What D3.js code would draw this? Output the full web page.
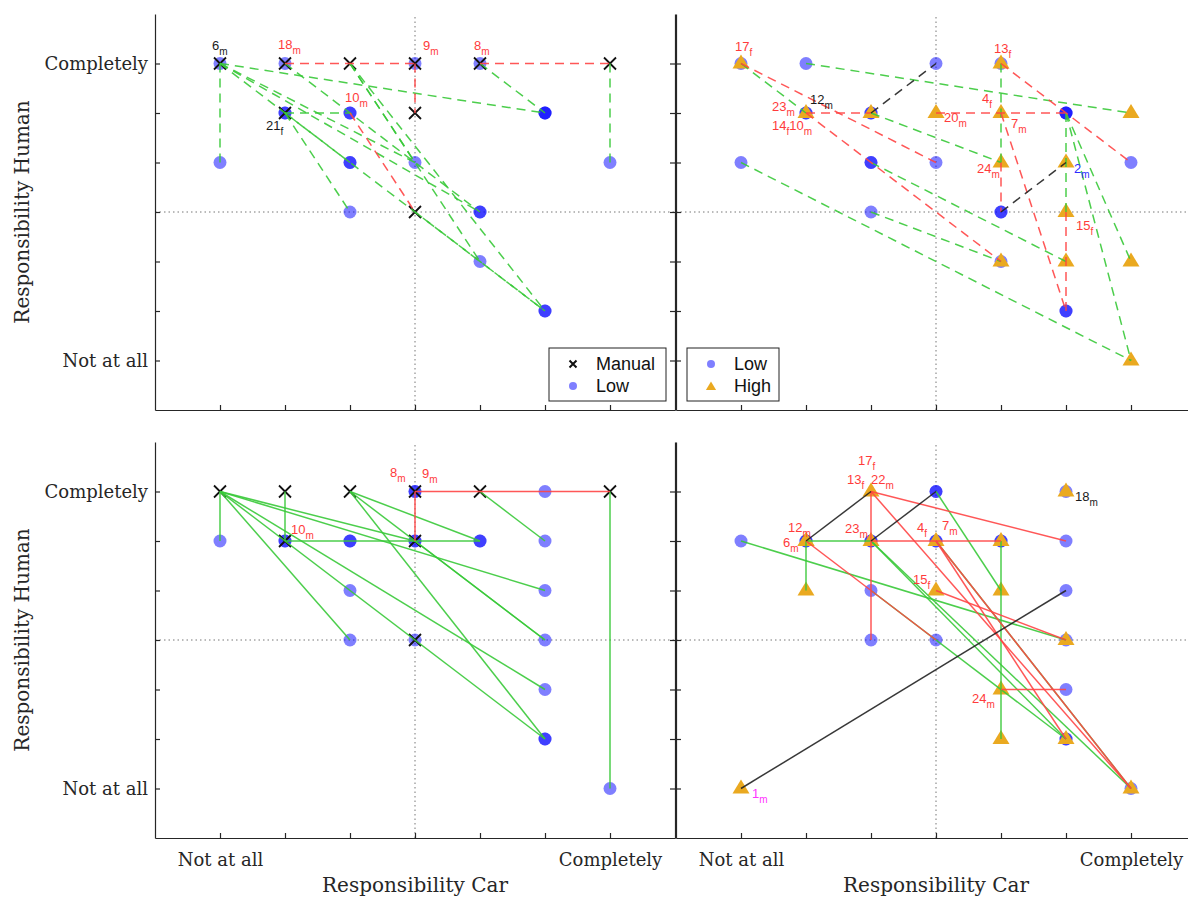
<!DOCTYPE html>
<html>
<head>
<meta charset="utf-8">
<script src="https://cdn.jsdelivr.net/npm/d3@7"></script>
<style>
  body { margin: 0; background: #fff; }
  svg { display: block; font-family: "Liberation Sans", Arial, sans-serif; }
  .axis path, .axis line { stroke: #262626; stroke-width: 1.2; }
  .axis text { font-family: "DejaVu Serif", serif; font-size: 18px; fill: #262626; }
  .axis-title { font-family: "DejaVu Serif", serif; font-size: 20px; fill: #262626; }
  .legend-text { font-size: 18px; fill: #111; }
  .pid { font-size: 13px; }
</style>
</head>
<body>
<svg id="chart" width="1188" height="898"></svg>
<script>
// rating scale: 1 = Not at all ... 7 = Completely
const ticks = [1, 2, 3, 4, 5, 6, 7];
const tickNames = { 1: "Not at all", 7: "Completely" };

// marker positions [car, human]
const manualTop = [[1,7],[2,7],[3,7],[4,7],[5,7],[7,7],[2,6],[4,6],[4,4]];
const lowTop = [[1,7],[2,7],[4,7],[5,7],[2,6],[2,6],[3,6],[3,6],[6,6],[6,6],[6,6],[1,5],
                [3,5],[3,5],[4,5],[7,5],[3,4],[5,4],[5,4],[5,3],[6,2],[6,2]];
const highTop = [[1,7],[5,7],[2,6],[3,6],[4,6],[5,6],[7,6],[5,5],[6,5],[6,4],[5,3],[6,3],[7,3],[7,1]];

const manualBottom = [[1,7],[2,7],[3,7],[4,7],[5,7],[7,7],[2,6],[4,6],[4,4]];
const lowBottom = [[1,6],[2,6],[2,6],[3,6],[3,6],[4,7],[4,7],[4,6],[4,6],[5,6],[5,6],[6,7],[6,6],
                   [3,5],[6,5],[3,4],[4,4],[6,4],[6,3],[6,2],[6,2],[7,1]];
const highBottom = [[1,1],[2,6],[2,6],[2,5],[3,7],[3,6],[4,6],[4,5],[5,6],[5,5],[5,3],[5,2],[6,7],[6,4],[6,2],[7,1]];

// participant changes [car1, human1, car2, human2]
const tlGreen = [[1,7,1,5],[1,7,6,6],[1,7,6,2],[1,7,4,5],[1,7,5,4],[2,7,5,4],[2,6,3,6],[2,6,3,4],
                 [2,6,3,5],[3,7,4,5],[3,7,5,3],[3,7,6,2],[4,4,6,2],[5,7,6,6],[7,7,7,5]];
const tlRed = [[2,7,4,7],[5,7,7,7],[4,7,4,6],[3,6,4,4]];
const tlBlack = [];

const trGreen = [[1,7,2,6],[2,7,7,6],[3,6,5,5],[1,5,7,1],[3,4,5,3],[3,5,6,3],[6,6,6,4],[6,6,7,3],
                 [6,6,7,1],[5,7,5,5]];
const trRed = [[1,7,4,5],[2,6,3,6],[4,6,6,6],[2,6,5,3],[5,7,7,5],[5,6,6,2],[5,5,5,4],[6,4,6,2]];
const trBlack = [[3,6,4,7],[5,4,6,5]];

const blGreen = [[1,7,1,6],[2,7,2,6],[2,6,5,6],[1,7,4,6],[1,7,6,5],[1,7,6,3],[1,7,6,2],[1,7,3,4],
                 [3,7,5,6],[3,7,6,2],[3,7,6,4],[4,6,6,4],[5,7,6,6],[7,7,7,1]];
const blRed = [[4,7,7,7],[4,7,4,6]];
const blBlack = [];

const brGreen = [[1,6,6,4],[2,6,3,6],[2,6,2,5],[3,6,6,2],[3,5,6,2],[4,7,5,5],[5,6,5,2],[3,6,7,1],[4,6,7,1]];
const brRed = [[3,7,6,6],[3,7,3,4],[3,7,7,1],[2,6,4,4],[3,6,5,6],[4,6,6,2],[4,6,7,1],[4,5,6,4],[5,3,6,3]];
const brBlack = [[2,6,3,7],[3,6,4,7],[1,1,6,5]];

// participant labels [car, human, number, sex, colour]
const tlLabels = [[1,7,"6","m","k"],[2,7,"18","m","r"],[4,7,"9","m","r"],[5,7,"8","m","r"],
                  [3,6,"10","m","r"],[2,6,"21","f","k"]];
const trLabels = [[1,7,"17","f","r"],[2,6,"12","m","k"],[2,6,"23","m","r"],[2,6,"14","f","r","10","m"],
                  [5,7,"13","f","r"],[5,6,"4","f","r"],[4,6,"20","m","r"],[5,6,"7","m","r"],
                  [5,5,"24","m","r"],[6,5,"2","m","b"],[6,4,"15","f","r"]];
const blLabels = [[2,6,"10","m","r"],[4,7,"8","m","r"],[4,7,"9","m","r"]];
const brLabels = [[3,7,"17","f","r"],[3,7,"13","f","r"],[3,7,"22","m","r"],[2,6,"12","m","r"],
                  [2,6,"6","m","r"],[3,6,"23","m","r"],[4,6,"4","f","r"],[4,6,"7","m","r"],
                  [4,5,"15","f","r"],[5,3,"24","m","r"],[6,7,"18","m","k"],[1,1,"1","m","p"]];

// label placement (pixel offsets from the marker), same order as the label lists
const tlOffsets = [[-8,-14],[-7,-15],[8,-14],[-6,-14],[-5,-11],[-19,17]];
const trOffsets = [[-6,-13],[4,-9],[-34,-2],[-34,17],[-7,-11],[-19,-10],[8,9],[10,15],[-24,10],[8,10],[10,18]];
const blOffsets = [[6,-7],[-25,-15],[7,-14]];
const brOffsets = [[-13,-27],[-24,-8],[0,-8],[-18,-9],[-23,6],[-26,-8],[-19,-9],[6,-11],[-23,-7],[-29,13],[9,9],[11,9]];

const labelColor = { r: "#ff3b3b", k: "#1a1a1a", b: "#2b2bff", p: "#ff33ff" };
const lineColor = { green: "#39c939", red: "#ff4545", black: "#222" };

const panels = [
  { col: 0, row: 0, dash: true, low: lowTop, other: manualTop, kind: "x",
    green: tlGreen, red: tlRed, black: tlBlack, labels: tlLabels, offsets: tlOffsets,
    legend: { x: 549, y: 348, w: 117, items: [["x", "Manual"], ["o", "Low"]] } },
  { col: 1, row: 0, dash: true, low: lowTop, other: highTop, kind: "tri",
    green: trGreen, red: trRed, black: trBlack, labels: trLabels, offsets: trOffsets,
    legend: { x: 687, y: 348, w: 92, items: [["o", "Low"], ["tri", "High"]] } },
  { col: 0, row: 1, dash: false, low: lowBottom, other: manualBottom, kind: "x",
    green: blGreen, red: blRed, black: blBlack, labels: blLabels, offsets: blOffsets },
  { col: 1, row: 1, dash: false, low: lowBottom, other: highBottom, kind: "tri",
    green: brGreen, red: brRed, black: brBlack, labels: brLabels, offsets: brOffsets }
];

const colRange = [[155, 675], [676, 1196]];
const rowRange = [[410, 14], [838, 442]];

const svg = d3.select("#chart");
const triPath = "M0,-9L8.5,5L-8.5,5Z";
const xPath = "M-6,-6L6,6M-6,6L6,-6";

function drawX(sel, px, py) {
  sel.append("path").attr("d", xPath)
    .attr("transform", `translate(${px},${py})`)
    .attr("stroke", "#111").attr("stroke-width", 1.8).attr("fill", "none");
}
function drawTri(sel, px, py, scale) {
  sel.append("path").attr("d", triPath)
    .attr("transform", `translate(${px},${py}) scale(${scale || 1})`)
    .attr("fill", "#eaa920");
}
function drawDot(sel, px, py, r) {
  sel.append("circle").attr("cx", px).attr("cy", py).attr("r", r)
    .attr("fill", "#0000ff").attr("fill-opacity", 0.5);
}

panels.forEach(p => {
  const x = d3.scaleLinear().domain([0, 8]).range(colRange[p.col]);
  const y = d3.scaleLinear().domain([0, 8]).range(rowRange[p.row]);
  const g = svg.append("g");

  // dotted mid lines
  g.append("line").attr("x1", x(4)).attr("x2", x(4)).attr("y1", y(0)).attr("y2", y(8))
    .attr("stroke", "#777").attr("stroke-width", 1).attr("stroke-dasharray", "1.5,3");
  g.append("line").attr("x1", x(0)).attr("x2", x(8)).attr("y1", y(4)).attr("y2", y(4))
    .attr("stroke", "#777").attr("stroke-width", 1).attr("stroke-dasharray", "1.5,3");

  // axes with inward ticks
  g.append("g").attr("class", "axis")
    .attr("transform", `translate(0,${y(0)})`)
    .call(d3.axisBottom(x).tickValues(ticks).tickSizeInner(-5).tickSizeOuter(0).tickPadding(15)
      .tickFormat(d => p.row === 1 ? (tickNames[d] || "") : ""));
  g.append("g").attr("class", "axis")
    .attr("transform", `translate(${x(0)},0)`)
    .call(d3.axisLeft(y).tickValues(ticks).tickSizeInner(-5).tickSizeOuter(0).tickPadding(7)
      .tickFormat(d => p.col === 0 ? (tickNames[d] || "") : ""))
    .selectAll("text").attr("dy", "0.35em");
  g.append("g").attr("class", "axis")
    .attr("transform", `translate(${x(8)},0)`)
    .call(d3.axisRight(y).tickValues(ticks).tickSizeInner(-5).tickSizeOuter(0).tickFormat(""));

  // markers
  const m = g.append("g");
  p.low.forEach(d => drawDot(m, x(d[0]), y(d[1]), 6.5));
  p.other.forEach(d => p.kind === "x" ? drawX(m, x(d[0]), y(d[1])) : drawTri(m, x(d[0]), y(d[1])));

  // change lines
  const lines = g.append("g").attr("fill", "none").attr("stroke-width", 1.5)
    .attr("stroke-dasharray", p.dash ? "9,6" : null);
  [["green", p.green], ["red", p.red], ["black", p.black]].forEach(([c, segs]) => {
    lines.selectAll(null).data(segs).enter().append("line")
      .attr("x1", d => x(d[0])).attr("y1", d => y(d[1]))
      .attr("x2", d => x(d[2])).attr("y2", d => y(d[3]))
      .attr("stroke", lineColor[c]).attr("stroke-opacity", 0.9);
  });

  // participant labels with subscripts
  p.labels.forEach((d, i) => {
    const off = p.offsets[i];
    const t = g.append("text").attr("class", "pid")
      .attr("x", x(d[0]) + off[0]).attr("y", y(d[1]) + off[1])
      .attr("fill", labelColor[d[4]]);
    t.append("tspan").text(d[2]);
    t.append("tspan").attr("dy", 5).attr("font-size", "10px").text(d[3]);
    if (d[5]) {
      t.append("tspan").attr("dy", -5).text(d[5]);
      t.append("tspan").attr("dy", 5).attr("font-size", "10px").text(d[6]);
    }
  });

  // axis titles
  if (p.col === 0) {
    g.append("text").attr("class", "axis-title")
      .attr("transform", `translate(29,${y(4)}) rotate(-90)`)
      .attr("text-anchor", "middle").text("Responsibility Human");
  }
  if (p.row === 1) {
    g.append("text").attr("class", "axis-title")
      .attr("x", x(4)).attr("y", 892).attr("text-anchor", "middle").text("Responsibility Car");
  }

  // legend
  if (p.legend) {
    const L = p.legend;
    const lg = g.append("g").attr("transform", `translate(${L.x},${L.y})`);
    lg.append("rect").attr("width", L.w).attr("height", 53)
      .attr("fill", "#fff").attr("stroke", "#222").attr("stroke-width", 1);
    L.items.forEach((it, k) => {
      const cy = 16 + k * 22;
      if (it[0] === "x") {
        lg.append("path").attr("d", "M-3.5,-3.5L3.5,3.5M-3.5,3.5L3.5,-3.5")
          .attr("transform", `translate(24,${cy})`).attr("stroke", "#111").attr("stroke-width", 2);
      } else if (it[0] === "o") {
        drawDot(lg, 24, cy, 4);
      } else {
        drawTri(lg, 24, cy + 1, 0.6);
      }
      lg.append("text").attr("class", "legend-text").attr("x", 47).attr("y", cy)
        .attr("dy", "0.35em").text(it[1]);
    });
  }
});
</script>
</body>
</html>
